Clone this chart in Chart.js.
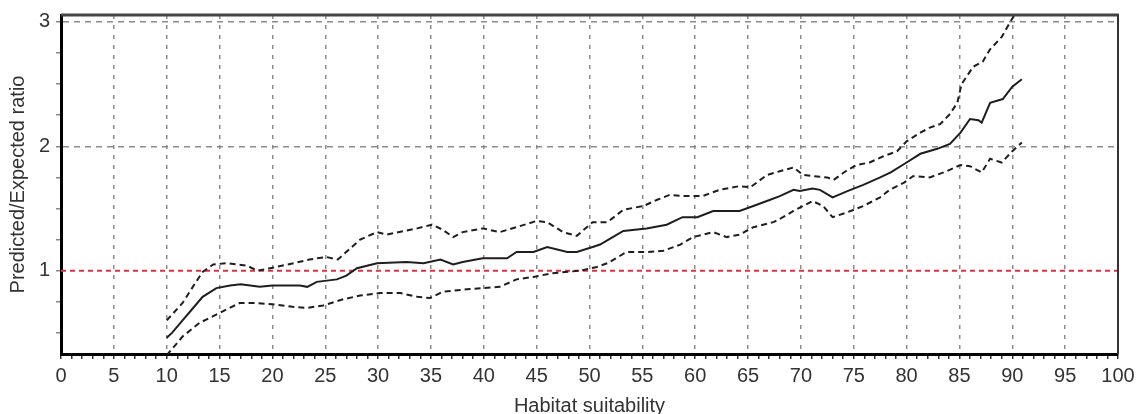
<!DOCTYPE html>
<html>
<head>
<meta charset="utf-8">
<title>Predicted/Expected ratio</title>
<script src="https://cdn.jsdelivr.net/npm/chart.js@4.4.1/dist/chart.umd.min.js"></script>
<style>
  html, body { margin: 0; padding: 0; background: #fff; }
  #wrap { width: 1136px; height: 414px; }
</style>
</head>
<body>
<div id="wrap"><canvas id="pe-ratio-chart" width="1136" height="414"></canvas></div>
<script>
// values
const xTickLabels = ['0', '5', '10', '15', '20', '25', '30', '35', '40', '45', '50',
  '55', '60', '65', '70', '75', '80', '85', '90', '95', '100'];
const yTickLabels = ['1', '2', '3'];

const medianX = [10.0, 10.5, 11.5, 12.5, 13.4, 14.7, 16.0, 17.0, 18.8, 20.0, 22.6, 23.3, 24.2, 26.1,
  27.0, 28.0, 29.9, 32.7, 34.3, 35.9, 37.1, 38.0, 39.9, 42.2, 43.1, 44.7, 46.0, 47.9, 48.8, 50.3,
  51.0, 52.2, 53.2, 55.4, 57.3, 58.8, 60.2, 61.7, 64.2, 65.5, 67.1, 68.0, 69.3, 69.9, 71.1, 71.8,
  73.0, 74.4, 75.9, 77.5, 78.5, 80.0, 81.3, 82.9, 84.1, 85.1, 86.0, 86.8, 87.1, 87.9, 89.1, 90.0, 90.9];
const medianY = [0.46, 0.50, 0.60, 0.70, 0.79, 0.86, 0.88, 0.89, 0.87, 0.88, 0.88, 0.87, 0.91, 0.93,
  0.96, 1.02, 1.06, 1.07, 1.06, 1.09, 1.05, 1.07, 1.10, 1.10, 1.15, 1.15, 1.19, 1.15, 1.15, 1.19,
  1.21, 1.27, 1.32, 1.34, 1.37, 1.43, 1.43, 1.48, 1.48, 1.52, 1.57, 1.60, 1.65, 1.64, 1.66, 1.65,
  1.59, 1.64, 1.69, 1.75, 1.79, 1.87, 1.94, 1.98, 2.02, 2.11, 2.22, 2.21, 2.19, 2.35, 2.38, 2.48, 2.54];

const upperX = [10.0, 11.5, 12.7, 13.4, 14.4, 15.7, 17.6, 18.6, 19.8, 22.0, 23.5, 25.1, 26.2, 28.3,
  29.9, 30.8, 33.7, 35.1, 36.1, 37.1, 38.0, 39.9, 41.5, 43.1, 45.0, 46.0, 47.5, 48.8, 50.3, 51.7,
  53.2, 55.1, 56.4, 57.6, 58.8, 60.7, 62.3, 64.2, 65.2, 66.8, 68.0, 69.3, 70.2, 71.2, 72.5, 73.1,
  74.4, 75.3, 76.5, 77.8, 79.1, 80.0, 81.3, 82.2, 83.2, 84.1, 84.8, 85.2, 86.3, 87.2, 87.9, 89.0,
  89.8, 90.9];
const upperY = [0.60, 0.74, 0.90, 0.99, 1.05, 1.06, 1.04, 1.00, 1.02, 1.06, 1.09, 1.11, 1.09, 1.25,
  1.31, 1.29, 1.34, 1.37, 1.33, 1.27, 1.31, 1.34, 1.31, 1.35, 1.40, 1.39, 1.31, 1.28, 1.39, 1.39,
  1.49, 1.52, 1.57, 1.61, 1.60, 1.60, 1.65, 1.68, 1.67, 1.77, 1.80, 1.83, 1.77, 1.76, 1.75, 1.73,
  1.81, 1.85, 1.87, 1.92, 1.96, 2.04, 2.11, 2.15, 2.18, 2.26, 2.35, 2.50, 2.64, 2.68, 2.78, 2.88,
  3.00, 3.15];

const lowerX = [10.0, 11.5, 13.1, 15.0, 16.9, 18.5, 20.0, 21.9, 23.2, 24.8, 26.7, 28.3, 30.2, 32.1,
  33.7, 34.9, 36.1, 38.4, 39.9, 41.5, 43.1, 44.7, 46.5, 49.1, 50.7, 51.7, 53.5, 55.4, 57.0, 58.6,
  59.8, 61.7, 63.0, 64.2, 65.5, 67.4, 68.3, 69.3, 70.2, 71.1, 72.1, 73.0, 74.4, 75.9, 77.5, 78.4,
  79.8, 80.6, 82.2, 83.8, 85.1, 86.0, 87.1, 87.9, 89.0, 90.0, 90.9];
const lowerY = [0.32, 0.47, 0.58, 0.66, 0.74, 0.74, 0.73, 0.71, 0.70, 0.72, 0.77, 0.80, 0.82, 0.82,
  0.79, 0.78, 0.83, 0.85, 0.86, 0.87, 0.93, 0.95, 0.98, 1.00, 1.03, 1.06, 1.15, 1.15, 1.16, 1.21,
  1.27, 1.31, 1.27, 1.29, 1.35, 1.39, 1.43, 1.48, 1.52, 1.56, 1.52, 1.43, 1.47, 1.52, 1.59, 1.65,
  1.71, 1.76, 1.75, 1.80, 1.85, 1.84, 1.79, 1.90, 1.87, 1.96, 2.03];

const refLineX = [0, 100];
const refLineY = [1, 1];

(function () {
  const canvas = document.getElementById('pe-ratio-chart');
  if (!canvas || typeof Chart === 'undefined') return;

  const FONT = "'Liberation Sans', Arial, sans-serif";
  const TEXT = '#333';
  const GRID = '#8c8c8c';
  const CLEAR = 'rgba(0,0,0,0)';

  function toPoints(xs, ys) {
    return xs.map((x, i) => ({ x, y: ys[i] }));
  }

  function isLabelled(value, labels) {
    return labels.includes(String(Math.round(value * 1000) / 1000));
  }

  // top and right edges of the plot frame
  const frame = {
    id: 'frame',
    afterDatasetsDraw(chart) {
      const { ctx, chartArea: a } = chart;
      ctx.save();
      ctx.strokeStyle = '#444';
      ctx.lineWidth = 3;
      ctx.beginPath();
      ctx.moveTo(a.left, a.top);
      ctx.lineTo(a.right + 1, a.top);
      ctx.stroke();
      ctx.strokeStyle = '#333';
      ctx.lineWidth = 2;
      ctx.beginPath();
      ctx.moveTo(a.right, a.top);
      ctx.lineTo(a.right, a.bottom);
      ctx.stroke();
      ctx.restore();
    },
  };

  new Chart(canvas, {
    type: 'line',
    data: {
      datasets: [
        {
          label: 'Median',
          data: toPoints(medianX, medianY),
          borderColor: '#1e1e1e',
          borderWidth: 2,
          pointRadius: 0,
          tension: 0,
        },
        {
          label: 'Upper',
          data: toPoints(upperX, upperY),
          borderColor: '#1e1e1e',
          borderWidth: 2,
          borderDash: [6, 4],
          pointRadius: 0,
          tension: 0,
        },
        {
          label: 'Lower',
          data: toPoints(lowerX, lowerY),
          borderColor: '#1e1e1e',
          borderWidth: 2,
          borderDash: [6, 4],
          pointRadius: 0,
          tension: 0,
        },
        {
          label: 'Random',
          data: toPoints(refLineX, refLineY),
          borderColor: '#e0303f',
          borderWidth: 2,
          borderDash: [5, 4],
          pointRadius: 0,
        },
      ],
    },
    options: {
      responsive: false,
      animation: false,
      layout: { padding: { top: 15, right: 18, left: 0, bottom: -4 } },
      plugins: {
        legend: { display: false },
        tooltip: { enabled: false },
      },
      scales: {
        x: {
          type: 'linear',
          min: 0,
          max: 100,
          afterFit: (scale) => {
            scale.height = 64;
            scale.paddingLeft = 0;
            scale.paddingRight = 0;
          },
          border: { display: true, color: '#000', width: 3, dash: [4, 6] },
          grid: {
            color: (ctx) => {
              const v = ctx.tick ? ctx.tick.value : null;
              if (v === null || v === 0 || v === 100) return CLEAR;
              return v % 5 === 0 ? GRID : CLEAR;
            },
            lineWidth: 1.5,
            tickColor: '#333',
            tickLength: 5,
          },
          ticks: {
            stepSize: 1,
            autoSkip: false,
            maxRotation: 0,
            padding: 5,
            color: TEXT,
            font: { family: FONT, size: 20 },
            callback: (value) => (isLabelled(value, xTickLabels) ? String(value) : ''),
          },
          title: {
            display: true,
            text: 'Habitat suitability',
            color: TEXT,
            font: { family: FONT, size: 20 },
            padding: { top: 0, bottom: 0 },
          },
        },
        y: {
          type: 'linear',
          min: 0.33,
          max: 3.056,
          afterFit: (scale) => {
            scale.width = 61;
            scale.paddingTop = 0;
            scale.paddingBottom = 0;
          },
          afterBuildTicks: (scale) => {
            const ticks = [];
            for (let v = 0.5; v <= 3.0001; v += 0.25) ticks.push({ value: Math.round(v * 100) / 100 });
            scale.ticks = ticks;
          },
          border: { display: true, color: '#000', width: 3, dash: [6, 5] },
          grid: {
            color: (ctx) => {
              const v = ctx.tick ? ctx.tick.value : null;
              if (v === null) return CLEAR;
              return (v === 2 || v === 3) ? GRID : CLEAR;
            },
            lineWidth: 1.5,
            tickColor: '#888',
            tickLength: 5,
          },
          ticks: {
            autoSkip: false,
            padding: 6,
            color: TEXT,
            font: { family: FONT, size: 20 },
            callback: (value) => (isLabelled(value, yTickLabels) ? String(value) : ''),
          },
          title: {
            display: true,
            text: 'Predicted/Expected ratio',
            color: TEXT,
            font: { family: FONT, size: 20 },
            padding: { top: 6, bottom: 0 },
          },
        },
      },
    },
    plugins: [frame],
  });
})();
</script>
</body>
</html>
